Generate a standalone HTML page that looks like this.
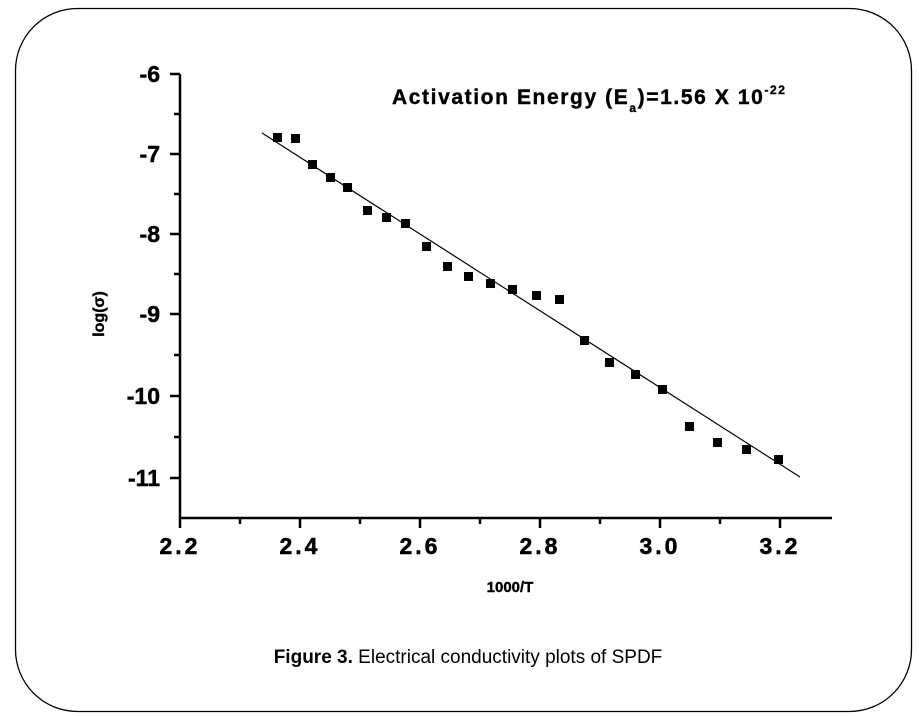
<!DOCTYPE html><html><head><style>body{margin:0;background:#fff}svg{display:block}</style></head><body>
<svg width="919" height="716" xmlns="http://www.w3.org/2000/svg" font-family="Liberation Sans, sans-serif">
<rect x="15.5" y="8.5" width="896" height="703" rx="62" fill="#fff" stroke="#000" stroke-width="1.3"/>
<g stroke="#000" stroke-width="2.5" fill="none">
<path d="M180 74V518H832"/>
<path d="M170 74h10M170 154h10M170 234h10M170 314h10M170 396h10M170 478h10"/>
<path d="M174 114h6M174 194h6M174 274h6M174 355h6M174 437h6"/>
<path d="M180 518v10M300 518v10M420 518v10M540 518v10M660 518v10M780 518v10"/>
<path d="M240 518v6M360 518v6M480 518v6M600 518v6M720 518v6"/>
</g>
<g font-weight="900" font-size="23" text-anchor="end" stroke="#000" stroke-width="0.5">
<text x="160" y="82">-6</text><text x="160" y="162">-7</text><text x="160" y="242">-8</text><text x="160" y="322">-9</text><text x="160" y="404">-10</text><text x="160" y="486">-11</text></g>
<g font-weight="bold" font-size="23" text-anchor="middle" letter-spacing="3" stroke="#000" stroke-width="0.5">
<text x="180" y="554">2.2</text><text x="300" y="554">2.4</text><text x="420" y="554">2.6</text><text x="540" y="554">2.8</text><text x="660" y="554">3.0</text><text x="780" y="554">3.2</text></g>
<text x="510" y="592" font-weight="bold" font-size="15" text-anchor="middle" stroke="#000" stroke-width="0.4">1000/T</text>
<text transform="translate(104,314) rotate(-90)" font-weight="bold" font-size="16" text-anchor="middle" stroke="#000" stroke-width="0.4">log(σ)</text>
<text x="392" y="104" font-weight="bold" font-size="21" letter-spacing="1.6" stroke="#000" stroke-width="0.4">Activation Energy (E<tspan font-size="12" dy="8">a</tspan><tspan dy="-8">)=1.56 X 10</tspan><tspan font-size="12" dy="-10">-22</tspan></text>
<line x1="262" y1="133" x2="800" y2="477" stroke="#000" stroke-width="1.2"/>
<g fill="#000">
<rect x="273" y="133" width="9" height="9"/><rect x="291" y="134" width="9" height="9"/><rect x="308" y="160" width="9" height="9"/><rect x="326" y="173" width="9" height="9"/><rect x="343" y="183" width="9" height="9"/><rect x="363" y="206" width="9" height="9"/><rect x="382" y="213" width="9" height="9"/><rect x="401" y="219" width="9" height="9"/><rect x="422" y="242" width="9" height="9"/><rect x="443" y="262" width="9" height="9"/><rect x="464" y="272" width="9" height="9"/><rect x="486" y="279" width="9" height="9"/><rect x="508" y="285" width="9" height="9"/><rect x="532" y="291" width="9" height="9"/><rect x="555" y="295" width="9" height="9"/><rect x="580" y="336" width="9" height="9"/><rect x="605" y="358" width="9" height="9"/><rect x="631" y="370" width="9" height="9"/><rect x="658" y="385" width="9" height="9"/><rect x="685" y="422" width="9" height="9"/><rect x="713" y="438" width="9" height="9"/><rect x="742" y="445" width="9" height="9"/><rect x="774" y="455" width="9" height="9"/>
</g>
<text x="468" y="663" font-size="19" text-anchor="middle"><tspan font-weight="bold">Figure 3.</tspan> Electrical conductivity plots of SPDF</text>
</svg></body></html>
